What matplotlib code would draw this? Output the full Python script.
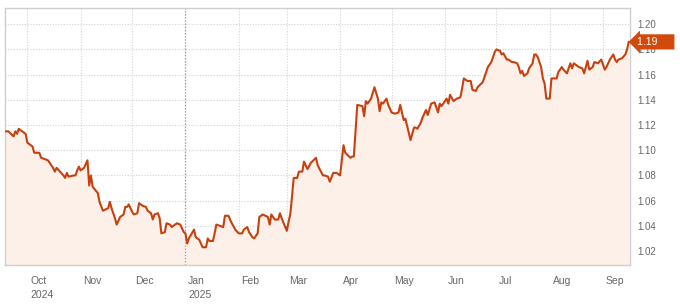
import matplotlib
matplotlib.use("Agg")
import matplotlib.pyplot as plt
import matplotlib.dates as mdates
from matplotlib.transforms import ScaledTranslation
import pandas as pd

# EUR/USD daily closes
dates = [
    "2024-09-18", "2024-09-20", "2024-09-23", "2024-09-24", "2024-09-25", "2024-09-26", "2024-09-27", "2024-09-29", "2024-09-30",
    "2024-10-01", "2024-10-03", "2024-10-04", "2024-10-05", "2024-10-07", "2024-10-08", "2024-10-09", "2024-10-11", "2024-10-13",
    "2024-10-14", "2024-10-16", "2024-10-17", "2024-10-18", "2024-10-20", "2024-10-22", "2024-10-23", "2024-10-24", "2024-10-25",
    "2024-10-28", "2024-10-29", "2024-10-30", "2024-10-31",
    "2024-11-01", "2024-11-03", "2024-11-04", "2024-11-05", "2024-11-06", "2024-11-07", "2024-11-08", "2024-11-11", "2024-11-12",
    "2024-11-14", "2024-11-17", "2024-11-18", "2024-11-19", "2024-11-21", "2024-11-22", "2024-11-24", "2024-11-26", "2024-11-27",
    "2024-11-28", "2024-11-29",
    "2024-12-01", "2024-12-02", "2024-12-04", "2024-12-05", "2024-12-07", "2024-12-09", "2024-12-10", "2024-12-12", "2024-12-13",
    "2024-12-14", "2024-12-16", "2024-12-17", "2024-12-18", "2024-12-20", "2024-12-21", "2024-12-23", "2024-12-24", "2024-12-26",
    "2024-12-27", "2024-12-29", "2024-12-31",
    "2025-01-01", "2025-01-02", "2025-01-03", "2025-01-06", "2025-01-07", "2025-01-09", "2025-01-11", "2025-01-13", "2025-01-14",
    "2025-01-15", "2025-01-17", "2025-01-18", "2025-01-19", "2025-01-21", "2025-01-23", "2025-01-24", "2025-01-26", "2025-01-28",
    "2025-01-30",
    "2025-02-01", "2025-02-03", "2025-02-04", "2025-02-06", "2025-02-07", "2025-02-09", "2025-02-10", "2025-02-12", "2025-02-13",
    "2025-02-15", "2025-02-18", "2025-02-19", "2025-02-20", "2025-02-22", "2025-02-24", "2025-02-25", "2025-02-26",
    "2025-03-01", "2025-03-02", "2025-03-03", "2025-03-04", "2025-03-05", "2025-03-07", "2025-03-08", "2025-03-10", "2025-03-11",
    "2025-03-13", "2025-03-15", "2025-03-18", "2025-03-19", "2025-03-22", "2025-03-23", "2025-03-25", "2025-03-26", "2025-03-28",
    "2025-03-30",
    "2025-04-01", "2025-04-03", "2025-04-04", "2025-04-07", "2025-04-08", "2025-04-09", "2025-04-10", "2025-04-11", "2025-04-14",
    "2025-04-15", "2025-04-16", "2025-04-17", "2025-04-19", "2025-04-21", "2025-04-23", "2025-04-24", "2025-04-25", "2025-04-26",
    "2025-04-28", "2025-04-29",
    "2025-05-01", "2025-05-03", "2025-05-05", "2025-05-06", "2025-05-07", "2025-05-08", "2025-05-09", "2025-05-12", "2025-05-14",
    "2025-05-15", "2025-05-16", "2025-05-18", "2025-05-19", "2025-05-21", "2025-05-22", "2025-05-24", "2025-05-26", "2025-05-28",
    "2025-05-29", "2025-05-30",
    "2025-06-02", "2025-06-03", "2025-06-04", "2025-06-06", "2025-06-08", "2025-06-10", "2025-06-11", "2025-06-12", "2025-06-14",
    "2025-06-16", "2025-06-17", "2025-06-19", "2025-06-20", "2025-06-23", "2025-06-24", "2025-06-26", "2025-06-28", "2025-06-30",
    "2025-07-01", "2025-07-03", "2025-07-04", "2025-07-05", "2025-07-07", "2025-07-08", "2025-07-10", "2025-07-11", "2025-07-13",
    "2025-07-14", "2025-07-15", "2025-07-16", "2025-07-17", "2025-07-19", "2025-07-20", "2025-07-22", "2025-07-23", "2025-07-24",
    "2025-07-25", "2025-07-27", "2025-07-28", "2025-07-29", "2025-07-30",
    "2025-08-01", "2025-08-02", "2025-08-03", "2025-08-05", "2025-08-06", "2025-08-08", "2025-08-09", "2025-08-11", "2025-08-13",
    "2025-08-14", "2025-08-15", "2025-08-17", "2025-08-18", "2025-08-20", "2025-08-21", "2025-08-23", "2025-08-24", "2025-08-26",
    "2025-08-27", "2025-08-29", "2025-08-31",
    "2025-09-02", "2025-09-03", "2025-09-05", "2025-09-07", "2025-09-08", "2025-09-09", "2025-09-10", "2025-09-12", "2025-09-14",
    "2025-09-15", "2025-09-16",
]
rates = [
    1.115, 1.115, 1.111, 1.115, 1.113, 1.117, 1.116, 1.114, 1.113,
    1.106, 1.104, 1.103, 1.098, 1.098, 1.098, 1.094, 1.093, 1.092,
    1.090, 1.086, 1.083, 1.086, 1.083, 1.080, 1.078, 1.082, 1.079,
    1.080, 1.080, 1.084, 1.087,
    1.084, 1.086, 1.089, 1.092, 1.072, 1.080, 1.071, 1.066, 1.059,
    1.052, 1.054, 1.059, 1.054, 1.046, 1.041, 1.047, 1.049, 1.055,
    1.055, 1.057,
    1.051, 1.049, 1.050, 1.058, 1.056, 1.055, 1.052, 1.050, 1.045,
    1.049, 1.050, 1.046, 1.034, 1.035, 1.042, 1.041, 1.039, 1.041,
    1.042, 1.041, 1.035,
    1.034, 1.026, 1.030, 1.037, 1.031, 1.029, 1.023, 1.023, 1.030,
    1.028, 1.028, 1.034, 1.041, 1.040, 1.039, 1.048, 1.048, 1.042,
    1.037,
    1.034, 1.034, 1.037, 1.039, 1.035, 1.031, 1.030, 1.034, 1.047,
    1.049, 1.047, 1.041, 1.049, 1.045, 1.045, 1.050, 1.046,
    1.036, 1.043, 1.049, 1.063, 1.078, 1.078, 1.083, 1.083, 1.091,
    1.085, 1.090, 1.094, 1.088, 1.080, 1.080, 1.079, 1.075, 1.082,
    1.082,
    1.080, 1.104, 1.098, 1.094, 1.095, 1.095, 1.116, 1.136, 1.135,
    1.127, 1.139, 1.137, 1.141, 1.150, 1.141, 1.131, 1.138, 1.137,
    1.141, 1.136,
    1.130, 1.129, 1.130, 1.136, 1.130, 1.124, 1.125, 1.108, 1.118,
    1.118, 1.117, 1.122, 1.126, 1.132, 1.128, 1.137, 1.138, 1.130,
    1.137, 1.135,
    1.141, 1.137, 1.144, 1.139, 1.141, 1.142, 1.149, 1.157, 1.155,
    1.155, 1.148, 1.147, 1.150, 1.154, 1.158, 1.166, 1.170, 1.178,
    1.180, 1.179, 1.176, 1.177, 1.172, 1.172, 1.170, 1.170, 1.169,
    1.166, 1.161, 1.163, 1.159, 1.161, 1.165, 1.169, 1.176, 1.176,
    1.174, 1.166, 1.157, 1.153, 1.141,
    1.141, 1.157, 1.157, 1.157, 1.162, 1.166, 1.164, 1.161, 1.169,
    1.165, 1.169, 1.167, 1.166, 1.165, 1.161, 1.171, 1.164, 1.166,
    1.170, 1.169, 1.172,
    1.164, 1.166, 1.172, 1.176, 1.172, 1.170, 1.172, 1.173, 1.176,
    1.180, 1.186,
]
month_ticks = ["2024-10-01", "2024-11-01", "2024-12-01", "2025-01-01", "2025-02-01", "2025-03-01",
               "2025-04-01", "2025-05-01", "2025-06-01", "2025-07-01", "2025-08-01", "2025-09-01"]
month_labels = ["Oct\n2024", "Nov", "Dec", "Jan\n2025", "Feb", "Mar",
                "Apr", "May", "Jun", "Jul", "Aug", "Sep"]
y_ticks = [1.02, 1.04, 1.06, 1.08, 1.10, 1.12, 1.14, 1.16, 1.18, 1.20]
last_label = "1.19"

plt.rcParams['font.family'] = ['Liberation Sans', 'DejaVu Sans']

x = pd.to_datetime(dates)
line_col = '#c8400e'

fig = plt.figure(figsize=(6.8, 3.06), dpi=100)
ax = fig.add_axes([5 / 680, 1 - 265 / 306, 625 / 680, 257 / 306])

ax.fill_between(x, rates, 1.0, color='#fdf0e8', linewidth=0, zorder=1)
ax.plot(x, rates, color=line_col, linewidth=1.5, zorder=3)

ax.set_xlim(pd.Timestamp("2024-09-18"), pd.Timestamp("2025-09-16 17:00"))
ax.set_ylim(1.0089, 1.2129)

ax.set_yticks(y_ticks)
ax.set_yticklabels([f"{v:.2f}" for v in y_ticks])
ax.yaxis.tick_right()
ax.tick_params(axis='y', length=0, pad=5, labelsize=7, labelcolor='#666666')
for lab in ax.get_yticklabels():
    lab.set_horizontalalignment('left')

xt = pd.to_datetime(month_ticks)
ax.set_xticks(xt)
ax.set_xticklabels(month_labels, ha='left', linespacing=1.45)
ax.tick_params(axis='x', length=0, pad=8, labelsize=7.5, labelcolor='#666666')
for lab in ax.get_xticklabels():
    lab.set_transform(lab.get_transform() + ScaledTranslation(2 / 72, 0, fig.dpi_scale_trans))

ax.grid(True, linestyle=(0, (1, 1.5)), color='#d4d4d4', linewidth=0.8, zorder=0)
ax.axvline(pd.Timestamp("2025-01-01"), color='#9a9a9a', linestyle=(0, (1, 1.5)), linewidth=0.9, zorder=2)
ax.set_axisbelow(True)

for s in ax.spines.values():
    s.set_color('#cfcfcf')
    s.set_linewidth(1.0)

ax.annotate(last_label + "     ", xy=(1, rates[-1]), xycoords=('axes fraction', 'data'),
            xytext=(5, 0), textcoords='offset points', ha='left', va='center',
            fontsize=7.5, color='white', annotation_clip=False, zorder=10,
            bbox=dict(boxstyle='larrow,pad=0.25', fc='#d2490c', ec='none'))

fig.savefig("out.png", dpi=100)
